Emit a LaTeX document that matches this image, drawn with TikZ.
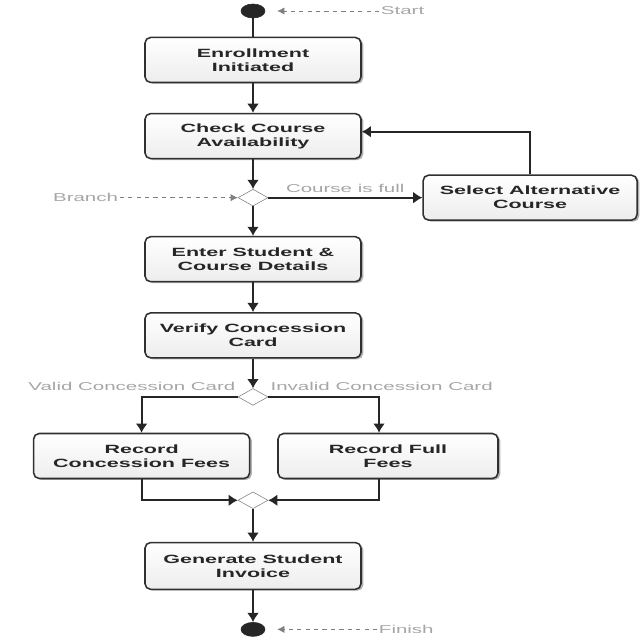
\documentclass[tikz,border=0pt]{standalone}
\usepackage{fontspec}
\setmainfont{Liberation Sans}[FakeStretch=1.8]
\usepackage{tikz}
\usetikzlibrary{arrows.meta,positioning,shapes.geometric,shadows}
\definecolor{flInk}{HTML}{262626}
\definecolor{flBorder}{HTML}{303030}
\definecolor{flFill}{HTML}{EDEDED}
\definecolor{flNote}{HTML}{A6A6A6}
\definecolor{flNoteArr}{HTML}{808080}
\tikzset{
  % Activity box
  actbox/.style={rectangle,rounded corners=4pt,
    minimum width=5.4cm,minimum height=1.125cm,
    align=center,draw=flBorder,line width=1.1pt,
    top color=white,bottom color=flFill,
    drop shadow={shadow xshift=1.6pt,shadow yshift=-1pt,fill=black!60},
    font=\fontsize{8.5}{10}\selectfont\bfseries,text=flInk},
  % Decision / merge diamond
  decision/.style={diamond,aspect=1.8,inner sep=0pt,
    minimum width=0.75cm,minimum height=0.42cm,
    draw=flNoteArr,fill=white,thin},
  % Start / finish dot
  flowdot/.style={ellipse,fill=flInk,draw=flInk,
    minimum width=0.6cm,minimum height=0.35cm,inner sep=0pt},
  % Arrows
  arr/.style={-{Latex[length=6.5pt,width=8.5pt]},line width=1.3pt,color=flInk},
  link/.style={line width=1.3pt,color=flInk},
  notearr/.style={-{Latex[length=5pt,width=5pt]},dashed,thin,color=flNoteArr},
  lbl/.style={font=\fontsize{8.1}{10}\selectfont,text=flNote,inner sep=1pt},
}
\begin{document}
\begin{tikzpicture}[node distance=0.74cm]
  \useasboundingbox (0,0) rectangle (16,-16);

  % Main column
  \node[flowdot] (start) at (6.325,-0.275) {};
  \node[actbox,below=0.46cm of start] (enroll) {Enrollment\\Initiated};
  \node[actbox,below=of enroll] (check) {Check Course\\Availability};
  \node[decision,below=of check] (avail) {};
  \node[actbox,below=of avail] (details) {Enter Student \&\\Course Details};
  \node[actbox,below=of details] (verify) {Verify Concession\\Card};
  \node[decision,below=of verify] (card) {};

  % Fee branches
  \node[actbox] (concfee) at (3.54,-11.4) {Record\\Concession Fees};
  \node[actbox,minimum width=5.5cm] (fullfee) at (9.7,-11.4) {Record Full\\Fees};
  \node[decision,below=2.15cm of card] (merge) {};
  \node[actbox,below=0.82cm of merge,minimum height=1.17cm] (invoice)
    {Generate Student\\Invoice};
  \node[flowdot,below=0.8cm of invoice] (finish) {};

  % Alternative course
  \node[actbox,right=3.85cm of avail,minimum width=5.35cm] (altcourse)
    {Select Alternative\\Course};

  % Notes
  \node[lbl,right=2.85cm of start] (startnote) {Start};
  \node[lbl,left=2.95cm of avail] (branchnote) {Branch};
  \node[lbl,right=2.8cm of finish] (finishnote) {Finish};

  % Flow
  \draw[link] (start) -- (enroll);
  \draw[arr] (enroll) -- (check);
  \draw[arr] (check) -- (avail);
  \draw[arr] (avail) -- (details);
  \draw[arr] (avail.east) -- (altcourse.west)
    node[lbl,midway,above=2pt] {Course is full};
  \draw[arr] (altcourse.north) |- ([yshift=0.11cm]check.east);
  \draw[arr] (details) -- (verify);
  \draw[arr] (verify) -- (card);

  % Concession split and merge
  \draw[arr] (card.west) -| (concfee.north)
    node[lbl,pos=0,anchor=south east,yshift=3pt] {Valid Concession Card};
  \draw[arr] (card.east) -| ([xshift=-0.225cm]fullfee.north)
    node[lbl,pos=0,anchor=south west,yshift=3pt] {Invalid Concession Card};
  \draw[arr] (concfee.south) |- (merge.west);
  \draw[arr] ([xshift=-0.225cm]fullfee.south) |- (merge.east);
  \draw[arr] (merge) -- (invoice);
  \draw[arr] (invoice) -- (finish);

  % Note pointers
  \draw[notearr,shorten >=0.3cm] (startnote) -- (start);
  \draw[notearr] (branchnote) -- (avail);
  \draw[notearr,shorten >=0.3cm] (finishnote) -- (finish);
\end{tikzpicture}
\end{document}
